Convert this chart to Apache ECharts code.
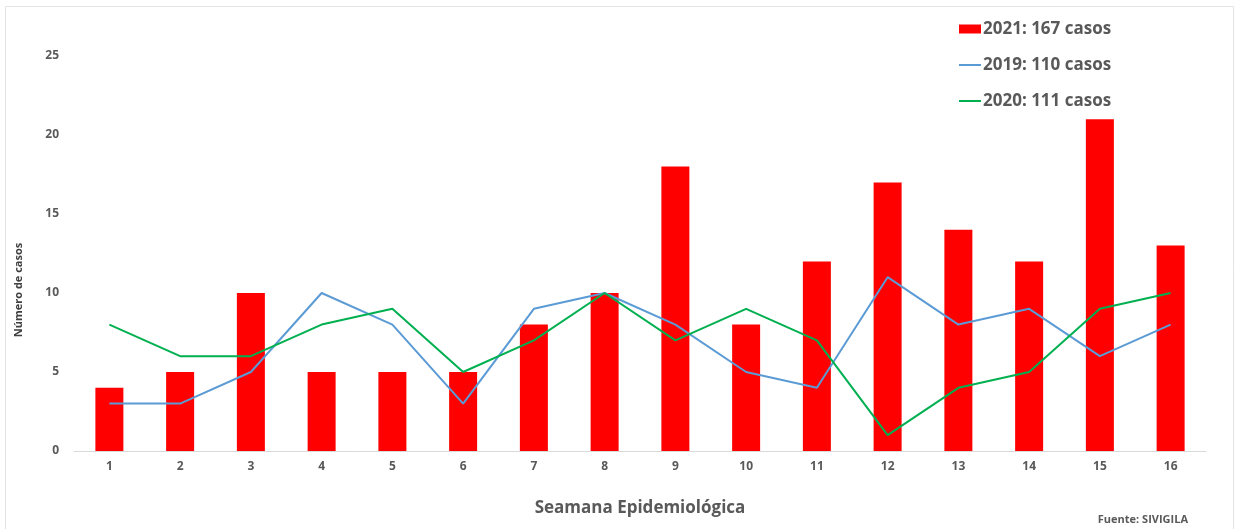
<!DOCTYPE html>
<html><head><meta charset="utf-8">
<script src="https://cdn.jsdelivr.net/npm/echarts@6/dist/echarts.min.js"></script>
<style>html,body{margin:0;padding:0;background:#fff}#c{width:1240px;height:529px}</style>
</head><body><div id="c"></div>
<script>
const weeks = ['1','2','3','4','5','6','7','8','9','10','11','12','13','14','15','16'];
const cases2021 = [4,5,10,5,5,5,8,10,18,8,12,17,14,12,21,13];
const cases2019 = [3,3,5,10,8,3,9,10,8,5,4,11,8,9,6,8];
const cases2020 = [8,6,6,8,9,5,7,10,7,9,7,1,4,5,9,10];
const seriesNames = ['2021: 167 casos','2019: 110 casos','2020: 111 casos'];
const yTicks = [0,5,10,15,20,25];

const FONT = '"Open Sans", "Liberation Sans", sans-serif';
const legendText = {fontFamily:FONT, fontWeight:'bold', fontSize:17, color:'#595959', padding:[0,0,0,-3], lineHeight:20};
const chart = echarts.init(document.getElementById('c'), null, {renderer:'canvas'});
chart.setOption({
  animation:false,
  backgroundColor:'#fff',
  textStyle:{fontFamily:FONT},
  grid:{left:74, right:34, top:56, bottom:78, containLabel:false},
  legend:[
    {left:959, top:19, padding:0, itemWidth:22, itemHeight:9, icon:'rect', textStyle:legendText, data:[seriesNames[0]]},
    {left:959, top:55, padding:0, itemWidth:22, itemHeight:2, icon:'rect', textStyle:legendText, data:[seriesNames[1]]},
    {left:959, top:91, padding:0, itemWidth:22, itemHeight:2, icon:'rect', textStyle:legendText, data:[seriesNames[2]]}
  ],
  xAxis:{
    type:'category', data:weeks,
    axisLine:{lineStyle:{color:'#d9d9d9', width:1}},
    axisTick:{show:false},
    axisLabel:{fontFamily:FONT, fontWeight:'bold', fontSize:12, color:'#595959', margin:10},
    name:'Seamana Epidemiológica', nameLocation:'middle', nameGap:49,
    nameTextStyle:{fontFamily:FONT, fontWeight:'bold', fontSize:17, color:'#595959'}
  },
  yAxis:{
    type:'value', min:yTicks[0], max:yTicks[yTicks.length-1], interval:5,
    splitLine:{show:false}, axisLine:{show:false}, axisTick:{show:false},
    axisLabel:{fontFamily:FONT, fontWeight:'bold', fontSize:12, color:'#595959', margin:15}
  },
  series:[
    {name:seriesNames[0], type:'bar', data:cases2021, barWidth:28, itemStyle:{color:'#ff0000'}},
    {name:seriesNames[1], type:'line', data:cases2019, symbol:'none', lineStyle:{color:'#5b9bd5', width:2}, itemStyle:{color:'#5b9bd5'}},
    {name:seriesNames[2], type:'line', data:cases2020, symbol:'none', lineStyle:{color:'#00b050', width:2}, itemStyle:{color:'#00b050'}}
  ],
  graphic:[
    {type:'rect', shape:{x:5.5, y:6.5, width:1228, height:530}, style:{fill:null, stroke:'#e3e3e3', lineWidth:1}, silent:true},
    {type:'text', x:19, y:290, rotation:Math.PI/2, style:{text:'Número de casos', font:'bold 11px '+FONT, fill:'#404040', align:'center', verticalAlign:'middle'}},
    {type:'text', x:1188, y:520, style:{text:'Fuente: SIVIGILA', font:'bold 11px '+FONT, fill:'#595959', align:'right', verticalAlign:'middle'}}
  ]
});
</script></body></html>
